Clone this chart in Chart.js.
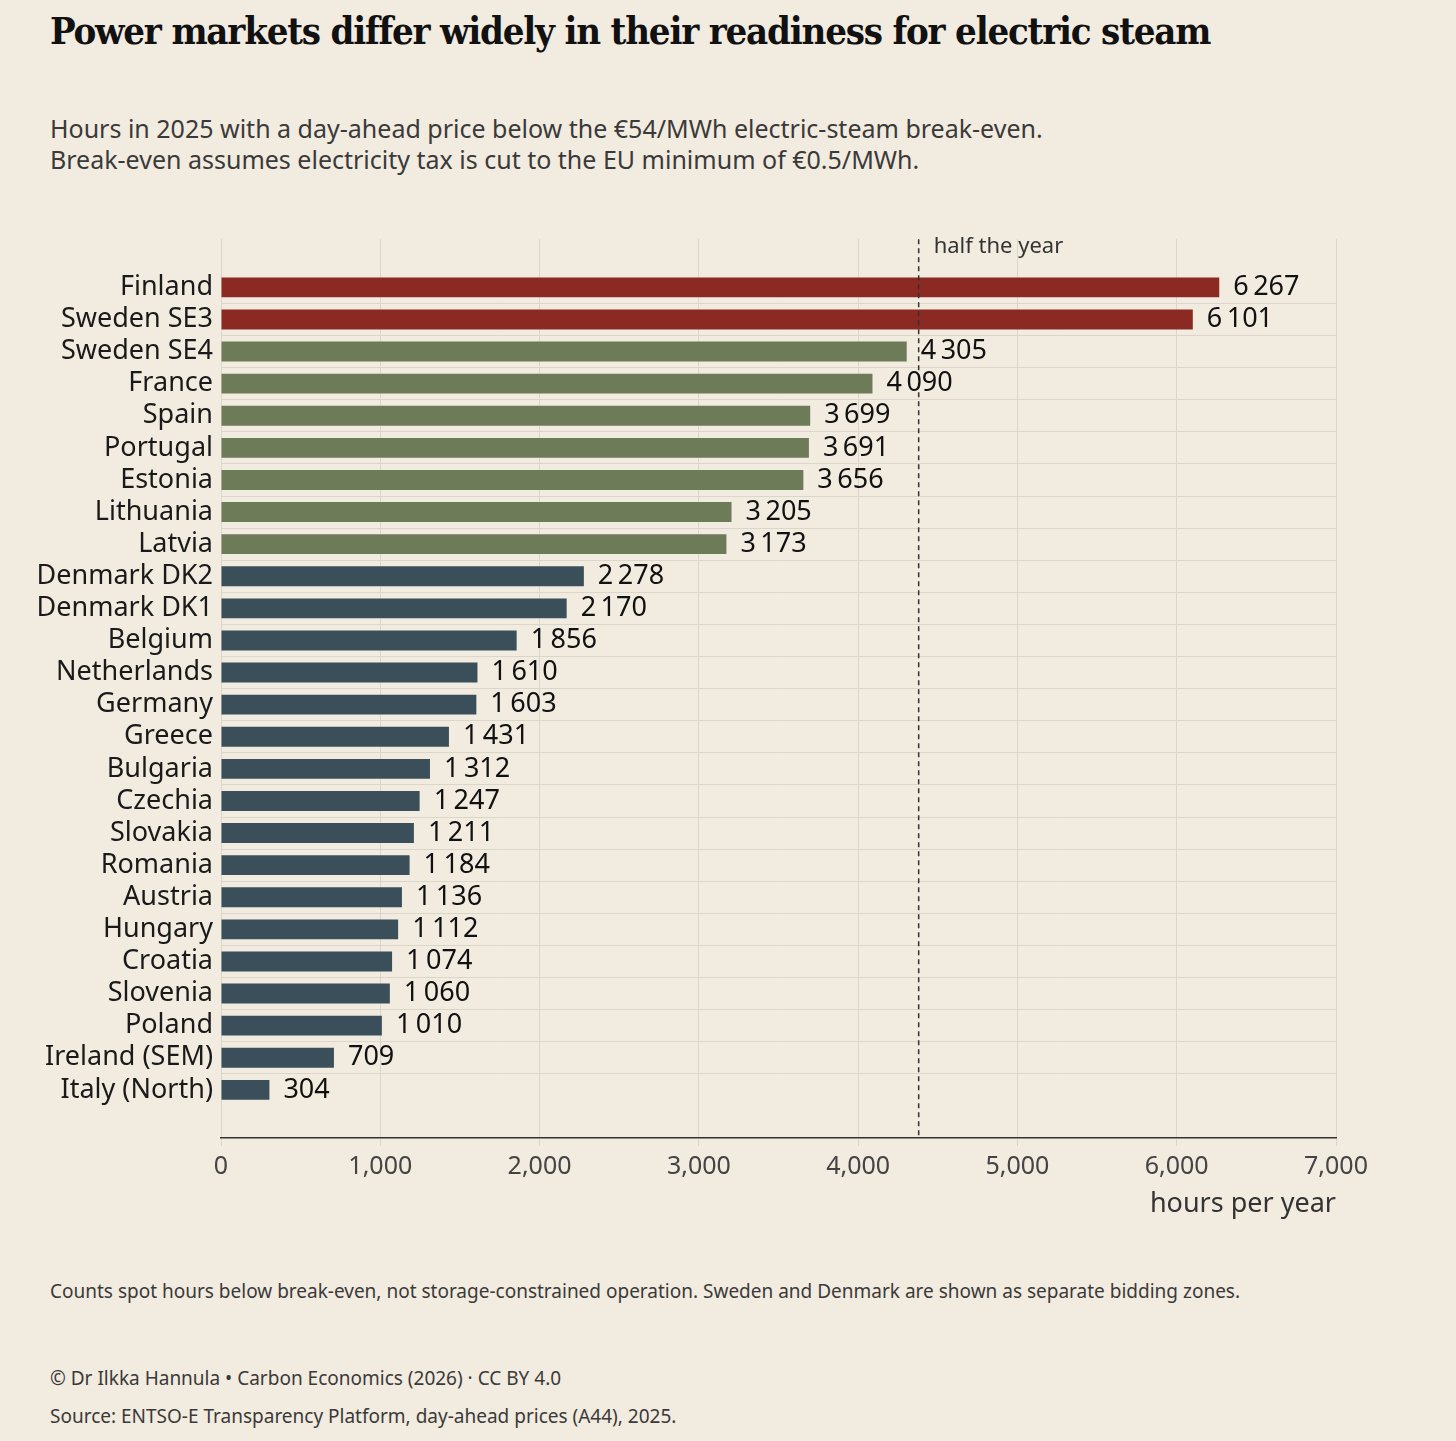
<!DOCTYPE html>
<html>
<head>
<meta charset="utf-8">
<script src="https://cdn.jsdelivr.net/npm/chart.js@4"></script>
<style>
  body { margin:0; background:#f2ebdf; width:1456px; height:1441px; position:relative; overflow:hidden; font-family:"Noto Sans", sans-serif; color:#333; }
  .t { position:absolute; left:50px; white-space:nowrap; }
  #title { top:8px; font-family:"DejaVu Serif Condensed","DejaVu Serif",serif; font-weight:bold; font-size:38px; color:#111; letter-spacing:-1.2px; }
  #sub { top:113px; font-size:25px; line-height:31px; color:#3a3a3a; }
  #note { top:1278px; font-size:19px; color:#3a3a3a; }
  #cred { top:1393px; font-size:19px; color:#3a3a3a; }
  #src { top:1432px; font-size:19px; color:#3a3a3a; transform:translateY(-29px); }
  #wrap { position:absolute; left:0; top:215px; width:1456px; height:1010px; }
</style>
</head>
<body>
<div class="t" id="title">Power markets differ widely in their readiness for electric steam</div>
<div class="t" id="sub">Hours in 2025 with a day-ahead price below the €54/MWh electric-steam break-even.<br>Break-even assumes electricity tax is cut to the EU minimum of €0.5/MWh.</div>
<div id="wrap"><canvas id="chart"></canvas></div>
<div class="t" id="note">Counts spot hours below break-even, not storage-constrained operation. Sweden and Denmark are shown as separate bidding zones.</div>
<div class="t" id="cred" style="top:1365px">© Dr Ilkka Hannula • Carbon Economics (2026) · CC BY 4.0</div>
<div class="t" id="src" style="top:1432px">Source: ENTSO-E Transparency Platform, day-ahead prices (A44), 2025.</div>
<script>
const countries = ['Finland','Sweden SE3','Sweden SE4','France','Spain','Portugal','Estonia','Lithuania','Latvia',
  'Denmark DK2','Denmark DK1','Belgium','Netherlands','Germany','Greece','Bulgaria','Czechia','Slovakia','Romania',
  'Austria','Hungary','Croatia','Slovenia','Poland','Ireland (SEM)','Italy (North)'];
const hours = [6267,6101,4305,4090,3699,3691,3656,3205,3173,2278,2170,1856,1610,1603,1431,1312,1247,1211,1184,1136,1112,1074,1060,1010,709,304];
const groups = ['top','top','mid','mid','mid','mid','mid','mid','mid','low','low','low','low','low','low','low','low','low','low','low','low','low','low','low','low','low'];
const groupColors = { top:'#8b2a22', mid:'#6e7b58', low:'#3b4f5a' };
const halfYear = 4380;

// pad with an empty row top and bottom
const labels = [''].concat(countries, ['']);
const values = [null].concat(hours, [null]);
const colors = ['#000'].concat(groups.map(g => groupColors[g]), ['#000']);

const fmt = v => String(v).replace(/\B(?=(\d{3})+(?!\d))/g, '\u2009');

const extras = {
  id:'extras',
  afterDatasetsDraw(chart) {
    const { ctx, chartArea, scales:{ x } } = chart;
    ctx.save();
    // half the year marker
    const hx = x.getPixelForValue(halfYear);
    ctx.strokeStyle = '#333'; ctx.lineWidth = 1.5; ctx.setLineDash([5,4]);
    ctx.beginPath(); ctx.moveTo(hx, chartArea.top); ctx.lineTo(hx, chartArea.bottom); ctx.stroke();
    ctx.setLineDash([]);
    ctx.fillStyle = '#333'; ctx.font = '22px "Noto Sans"'; ctx.textBaseline = 'middle';
    ctx.fillText('half the year', hx + 15, chartArea.top + 8);
    // value labels
    ctx.fillStyle = '#111'; ctx.font = '27px "Noto Sans"';
    chart.getDatasetMeta(0).data.forEach((bar, i) => {
      if (values[i] == null) return;
      ctx.fillText(fmt(values[i]), bar.x + 14, bar.y);
    });
    ctx.restore();
  }
};

new Chart(document.getElementById('chart'), {
  type:'bar',
  data:{ labels, datasets:[{ data:values, backgroundColor:colors, barPercentage:0.62, categoryPercentage:1 }] },
  options:{
    indexAxis:'y', responsive:true, maintainAspectRatio:false, animation:false,
    layout:{ padding:{ top:13, right:120, left:0, bottom:0 } },
    plugins:{ legend:{ display:false }, tooltip:{ enabled:false } },
    scales:{
      x:{
        min:0, max:7000,
        ticks:{ stepSize:1000, color:'#444', font:{ size:25, family:'Noto Sans' }, padding:6 },
        grid:{ color:'#dcd5c9', drawTicks:true, tickLength:8 },
        border:{ color:'#333', width:1.5 },
        title:{ display:true, text:'hours per year', align:'end', color:'#333', font:{ size:27, family:'Noto Sans' } },
        afterFit(s) { s.height = 87; }
      },
      y:{
        ticks:{ color:'#1a1a1a', font:{ size:27, family:'Noto Sans' }, padding:8, autoSkip:false },
        grid:{ offset:true, drawTicks:false, color:c => (c.index <= 1 || c.index >= labels.length - 1) ? 'rgba(0,0,0,0)' : '#dcd5c9' },
        border:{ display:false },
        afterFit(s) { s.width = 221; }
      }
    }
  },
  plugins:[extras]
});
</script>
</body>
</html>
